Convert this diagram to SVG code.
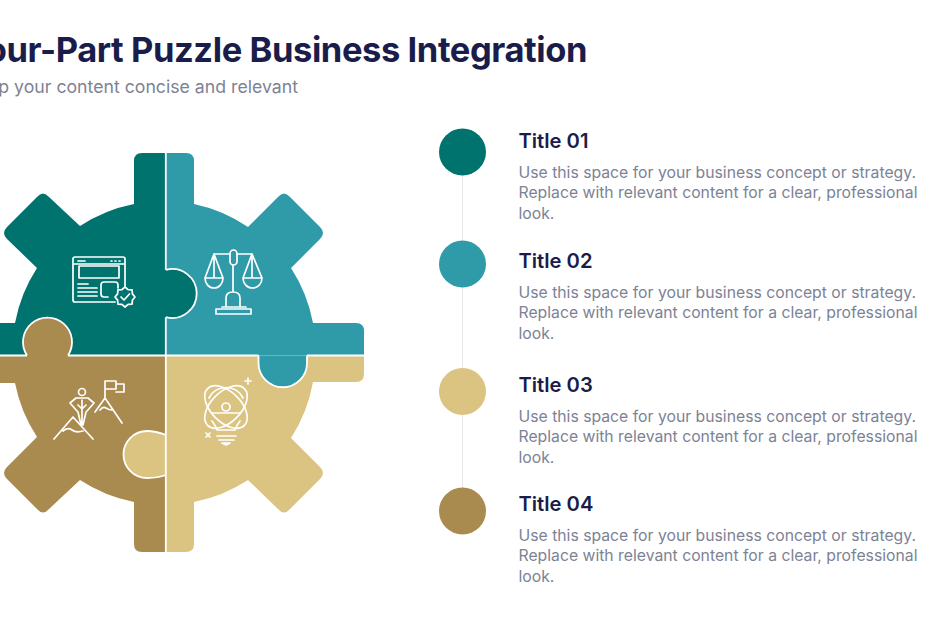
<svg xmlns="http://www.w3.org/2000/svg" width="930" height="620" viewBox="0 0 930 620">
<style>
text{font-family:Inter,"Noto Sans","Liberation Sans",sans-serif}
.h{font-size:34.5px;font-weight:700;fill:#1a1d4a;letter-spacing:-.42px}
.s{font-size:17.7px;fill:#7d8295}
.t{font-size:20.2px;font-weight:600;fill:#1a1d4a}
.b{font-size:15.76px;fill:#7d8295}
.i{fill:none;stroke:#fff;stroke-width:1.7;stroke-linecap:round;stroke-linejoin:round}
.e{stroke:#fff;stroke-width:1.8}
.d{fill:none;stroke:#fff;stroke-width:1.8}
</style>
<defs>
<path id="gear" d="M134 161Q134 153 142 153H186Q194 153 194 161V204A152 152 0 0 1 248 227L278 197Q284 190 290 197L320 227Q326 233 320 239L291 268A152 152 0 0 1 313 323H356Q364 323 364 331V374Q364 382 356 382H313A152 152 0 0 1 291 438L320 467Q326 473 320 479L290 509Q284 516 278 509L248 480A152 152 0 0 1 194 502V544Q194 552 186 552H142Q134 552 134 544V502A152 152 0 0 1 80 480L49 509Q43 516 37 509L7 479Q1 473 7 467L37 437A152 152 0 0 1 15 383H-40V323H15A152 152 0 0 1 37 268L7 239Q1 233 7 227L37 197Q43 190 49 197L80 226A152 152 0 0 1 134 204Z"/>
<clipPath id="q1"><rect x="-50" y="140" width="216" height="215"/></clipPath>
<clipPath id="q2"><rect x="166" y="140" width="210" height="215"/></clipPath>
<clipPath id="q3"><rect x="-50" y="355" width="216" height="210"/></clipPath>
<clipPath id="q4"><rect x="166" y="355" width="210" height="210"/></clipPath>
</defs>
<rect width="930" height="620" fill="#fff"/>
<g id="header">
<text class="h" x="587" y="62" text-anchor="end">Four-Part Puzzle Business Integration</text>
<text class="s" x="298" y="93" text-anchor="end">Keep your content concise and relevant</text>
</g>
<g id="connectors"><path d="M462.500 175V488" stroke="#e6e8ec" stroke-width="1" fill="none"/></g>
<g id="piece-blue">
<use href="#gear" fill="#2f9aa8" clip-path="url(#q2)"/>
</g>
<g id="piece-beige">
<use href="#gear" fill="#dbc382" clip-path="url(#q4)"/>
</g>
<g id="piece-teal">
<use href="#gear" fill="#00736f" clip-path="url(#q1)"/>
<path class="e" fill="#00736f" d="M166 269.800A24.500 24.500 0 1 1 166 317.200"/>
<path class="i" d="M115 302H75Q73 302 73 300V259Q73 257 75 257H123Q125 257 125 259V286M73 264H125M79 266H119V278H79ZM78 284H88M78 288H97M78 292H97M78 296H97M104 282H115Q118 282 118 285V288M108 297H104Q101 297 101 294V285Q101 282 104 282M78 261H85M111 261H112M115 261H116M119 261H120"/>
<path class="i" d="M135 297L132.400 300.100L132.100 304.100L128.100 304.400L125 307L121.900 304.400L117.900 304.100L117.600 300.100L115 297L117.600 293.900L117.900 289.900L121.900 289.600L125 287L128.100 289.600L132.100 289.900L132.400 293.900ZM121 297L124 300L129.500 294"/>
</g>
<g id="piece-brown">
<use href="#gear" fill="#a98a4f" clip-path="url(#q3)"/>
<path class="e" fill="#a98a4f" d="M27 355.500A24.500 24.500 0 1 1 68 355.500"/>
<path class="i" d="M54 439L73 417L93 439M63 431Q68 427 72 430T83 431M95 412L105 398L122 423M100 410Q103 406 106 408T112 410M105 398V381H116V389H105M116 384H124V392H116"/>
<circle class="i" cx="82" cy="392" r="3.500"/>
<path class="i" d="M76 398H88L94 403L87 411M76 398L70 403L77 411M78 412L81 425M82 400V425M86 412L83 425M78 405L82 409L86 405"/>
</g>
<g id="tab-beige">
<path class="e" fill="#dbc382" d="M166 435C158 432 152 431 147 431A23.500 23.500 0 0 0 147 478C152 478 158 478 166 475"/>
<path class="i" d="M248 378V384M245 381H251M206 433L210 437M210 433L206 437"/>
<ellipse class="i" cx="226" cy="407" rx="26" ry="15" transform="rotate(45 226 407)"/>
<ellipse class="i" cx="226" cy="407" rx="26" ry="15" transform="rotate(-45 226 407)"/>
<circle class="i" cx="226" cy="407" r="4"/>
<path class="i" d="M212 413H240M209 398A19 19 0 0 1 243 398M212 421Q216 426 217 430H235Q236 426 240 421M217 436H236M219 440H234M222 443H230L226 445Z"/>
</g>
<g id="piece-blue-details">
<path class="e" fill="#2f9aa8" d="M258.500 355.500V363A24.250 24.250 0 0 0 307 363V355.500"/>
<path class="i" d="M214 254H230M237 254H252M233 265V292M226 307V298Q226 292 233 292Q240 292 240 298V307M222 307H246M216 309H251V314H216ZM214 254L205 278M214 254L223 278M205 278H223A9 10 0 0 1 205 278ZM252 254L243 278M252 254L262 278M243 278H262A9.500 10 0 0 1 243 278ZM214 258V278M252 258V278"/>
<rect class="i" x="230" y="250" width="7" height="15" rx="3.500"/>
</g>
<g id="dividers">
<path class="d" d="M165.800 153V269.800M165.800 317.200V552M-5 355.500H27M68 355.500H258.500M307 355.500H364"/>
</g>
<g id="item-1">
<circle cx="462.500" cy="152" r="23.500" fill="#00736f"/>
<text class="t" x="518.500" y="148">Title 01</text>
<text class="b"><tspan x="518.500" y="177.500">Use this space for your business concept or strategy.</tspan><tspan x="518.500" y="198">Replace with relevant content for a clear, professional</tspan><tspan x="518.500" y="219">look.</tspan></text>
</g>
<g id="item-2">
<circle cx="462.500" cy="264" r="23.500" fill="#2f9aa8"/>
<text class="t" x="518.500" y="268">Title 02</text>
<text class="b"><tspan x="518.500" y="297.500">Use this space for your business concept or strategy.</tspan><tspan x="518.500" y="318">Replace with relevant content for a clear, professional</tspan><tspan x="518.500" y="339">look.</tspan></text>
</g>
<g id="item-3">
<circle cx="462.500" cy="391.500" r="23.500" fill="#dbc382"/>
<text class="t" x="518.500" y="392">Title 03</text>
<text class="b"><tspan x="518.500" y="421.500">Use this space for your business concept or strategy.</tspan><tspan x="518.500" y="442">Replace with relevant content for a clear, professional</tspan><tspan x="518.500" y="463">look.</tspan></text>
</g>
<g id="item-4">
<circle cx="462.500" cy="511" r="23.500" fill="#a98a4f"/>
<text class="t" x="518.500" y="511">Title 04</text>
<text class="b"><tspan x="518.500" y="540.500">Use this space for your business concept or strategy.</tspan><tspan x="518.500" y="561">Replace with relevant content for a clear, professional</tspan><tspan x="518.500" y="582">look.</tspan></text>
</g>
</svg>
